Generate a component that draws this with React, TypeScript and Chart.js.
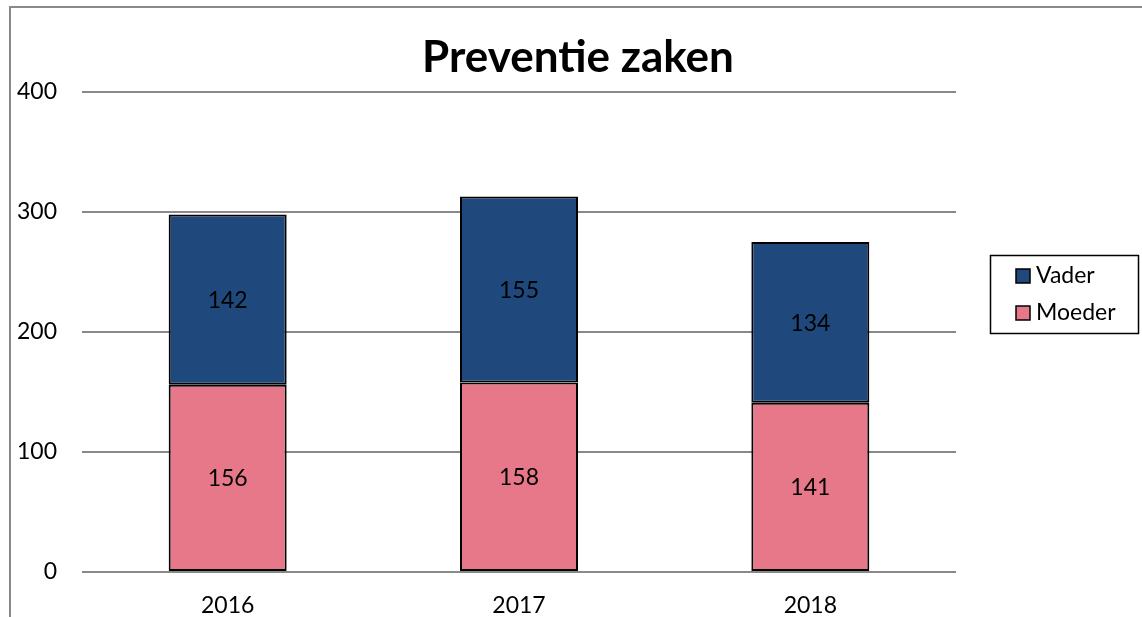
import React, { useEffect, useRef } from "react";
import { Chart, registerables } from "chart.js";

Chart.register(...registerables);

const categories = ["2016", "2017", "2018"];
const moeder = [156, 158, 141];
const vader = [142, 155, 134];
const yTicks = [0, 100, 200, 300, 400];
const titleText = "Preventie zaken";

const FONT = "Lato, 'Liberation Sans', sans-serif";

const framePlugin = {
  id: "frame",
  beforeDraw(chart: any) {
    const ctx = chart.ctx;
    ctx.save();
    ctx.fillStyle = "#ffffff";
    ctx.fillRect(0, 0, chart.width, chart.height);
    ctx.strokeStyle = "#898989";
    ctx.lineWidth = 2;
    ctx.strokeRect(10, 7, chart.width + 20, chart.height + 20);
    ctx.restore();
  },
  afterDraw(chart: any) {
    const ctx = chart.ctx;
    ctx.save();
    // title
    ctx.fillStyle = "#000";
    ctx.font = `bold 44px ${FONT}`;
    ctx.textAlign = "center";
    ctx.textBaseline = "middle";
    ctx.fillText(titleText, 578, 58);
    // data labels
    ctx.font = `23px ${FONT}`;
    chart.data.datasets.forEach((ds: any, di: number) => {
      const meta = chart.getDatasetMeta(di);
      meta.data.forEach((bar: any, i: number) => {
        const y = (bar.y + bar.base) / 2;
        ctx.fillText(String(ds.data[i]), bar.x, y + 1);
      });
    });
    // legend
    ctx.lineWidth = 1.5;
    ctx.strokeStyle = "#000";
    ctx.strokeRect(990.5, 255.5, 148, 78);
    const items = [
      { label: "Vader", color: "#1F497D", y: 276 },
      { label: "Moeder", color: "#E6788A", y: 313 },
    ];
    ctx.textAlign = "left";
    items.forEach((it) => {
      ctx.fillStyle = it.color;
      ctx.fillRect(1016, it.y - 7, 14, 14);
      ctx.strokeRect(1016, it.y - 7, 14, 14);
      ctx.fillStyle = "#000";
      ctx.fillText(it.label, 1036, it.y);
    });
    ctx.restore();
  },
};

export default function App() {
  const ref = useRef<HTMLCanvasElement>(null);
  useEffect(() => {
    document.body.style.margin = "0";
    const chart = new Chart(ref.current!, {
      type: "bar",
      data: {
        labels: categories,
        datasets: [
          {
            label: "Moeder",
            data: moeder,
            backgroundColor: "#E6788A",
            borderColor: "#000",
            borderWidth: 2,
            borderSkipped: false,
            categoryPercentage: 1,
            barPercentage: 0.405,
          },
          {
            label: "Vader",
            data: vader,
            backgroundColor: "#1F497D",
            borderColor: "#000",
            borderWidth: 2,
            borderSkipped: false,
            categoryPercentage: 1,
            barPercentage: 0.405,
          },
        ],
      },
      options: {
        animation: false,
        responsive: false,
        layout: { padding: { left: 10, right: 186, top: 92, bottom: 0 } },
        plugins: { legend: { display: false }, title: { display: false }, tooltip: { enabled: false } },
        scales: {
          x: {
            stacked: true,
            grid: { display: false, drawTicks: false },
            border: { display: false },
            ticks: { color: "#000", font: { family: FONT, size: 23 }, padding: 20 },
            afterFit: (s: any) => { s.height = 45; },
          },
          y: {
            stacked: true,
            min: 0,
            max: 400,
            afterBuildTicks: (s: any) => { s.ticks = yTicks.map((v) => ({ value: v })); },
            grid: { color: "#898989", lineWidth: 2, drawTicks: false },
            border: { display: false },
            ticks: { color: "#000", font: { family: FONT, size: 23 }, padding: 25 },
            afterFit: (s: any) => { s.width = 72; },
          },
        },
      },
      plugins: [framePlugin],
    });
    return () => chart.destroy();
  }, []);
  return <canvas ref={ref} width={1142} height={617} style={{ display: "block" }} />;
}
